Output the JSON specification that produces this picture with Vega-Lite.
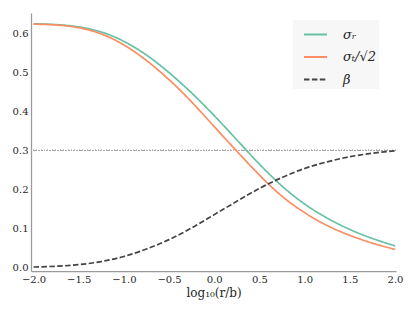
{
  "$schema": "https://vega.github.io/schema/vega-lite/v6.json",
  "width": 365,
  "height": 258,
  "autosize": {"type": "none"},
  "padding": {"left": 31, "top": 13, "right": 19, "bottom": 42},
  "background": "white",
  "config": {
    "view": {"stroke": null},
    "font": "DejaVu Serif",
    "axis": {
      "domainColor": "#9a9a9a",
      "domainWidth": 1.25,
      "ticks": false,
      "grid": false,
      "labelFont": "DejaVu Serif",
      "labelFontSize": 10,
      "labelColor": "#262626",
      "labelPadding": 3,
      "titleFont": "DejaVu Serif",
      "titleFontWeight": "normal",
      "titleColor": "#262626"
    }
  },
  "data": {
    "values": [
      {"x": -2.0, "series": "σr", "v": 0.624},
      {"x": -1.75, "series": "σr", "v": 0.622},
      {"x": -1.5, "series": "σr", "v": 0.616},
      {"x": -1.25, "series": "σr", "v": 0.603},
      {"x": -1.0, "series": "σr", "v": 0.579},
      {"x": -0.75, "series": "σr", "v": 0.544},
      {"x": -0.5, "series": "σr", "v": 0.499},
      {"x": -0.25, "series": "σr", "v": 0.447},
      {"x": 0.0, "series": "σr", "v": 0.389},
      {"x": 0.25, "series": "σr", "v": 0.327},
      {"x": 0.5, "series": "σr", "v": 0.265},
      {"x": 0.75, "series": "σr", "v": 0.209},
      {"x": 1.0, "series": "σr", "v": 0.163},
      {"x": 1.25, "series": "σr", "v": 0.127},
      {"x": 1.5, "series": "σr", "v": 0.098},
      {"x": 1.75, "series": "σr", "v": 0.075},
      {"x": 2.0, "series": "σr", "v": 0.056},
      {"x": -2.0, "series": "σt", "v": 0.623},
      {"x": -1.75, "series": "σt", "v": 0.621},
      {"x": -1.5, "series": "σt", "v": 0.614},
      {"x": -1.25, "series": "σt", "v": 0.598},
      {"x": -1.0, "series": "σt", "v": 0.570},
      {"x": -0.75, "series": "σt", "v": 0.530},
      {"x": -0.5, "series": "σt", "v": 0.481},
      {"x": -0.25, "series": "σt", "v": 0.424},
      {"x": 0.0, "series": "σt", "v": 0.361},
      {"x": 0.25, "series": "σt", "v": 0.298},
      {"x": 0.5, "series": "σt", "v": 0.237},
      {"x": 0.75, "series": "σt", "v": 0.183},
      {"x": 1.0, "series": "σt", "v": 0.141},
      {"x": 1.25, "series": "σt", "v": 0.108},
      {"x": 1.5, "series": "σt", "v": 0.083},
      {"x": 1.75, "series": "σt", "v": 0.063},
      {"x": 2.0, "series": "σt", "v": 0.047},
      {"x": -2.0, "series": "β", "v": 0.002},
      {"x": -1.75, "series": "β", "v": 0.004},
      {"x": -1.5, "series": "β", "v": 0.008},
      {"x": -1.25, "series": "β", "v": 0.016},
      {"x": -1.0, "series": "β", "v": 0.029},
      {"x": -0.75, "series": "β", "v": 0.048},
      {"x": -0.5, "series": "β", "v": 0.072},
      {"x": -0.25, "series": "β", "v": 0.102},
      {"x": 0.0, "series": "β", "v": 0.136},
      {"x": 0.25, "series": "β", "v": 0.170},
      {"x": 0.5, "series": "β", "v": 0.203},
      {"x": 0.75, "series": "β", "v": 0.231},
      {"x": 1.0, "series": "β", "v": 0.254},
      {"x": 1.25, "series": "β", "v": 0.271},
      {"x": 1.5, "series": "β", "v": 0.284},
      {"x": 1.75, "series": "β", "v": 0.293},
      {"x": 2.0, "series": "β", "v": 0.299}
    ]
  },
  "layer": [
    {
      "mark": {"type": "rule", "color": "#aaaaaa", "strokeWidth": 0.8, "strokeDash": [1, 1.7]},
      "encoding": {"y": {"datum": 0.3}}
    },
    {
      "mark": {"type": "line", "interpolate": "natural", "strokeWidth": 1.7},
      "encoding": {
        "x": {
          "field": "x", "type": "quantitative",
          "scale": {"domain": [-2.028, 2.011], "nice": false, "zero": false},
          "axis": {"values": [-2, -1.5, -1, -0.5, 0, 0.5, 1, 1.5, 2], "format": ".1f", "labelFlush": false, "labelOverlap": false, "title": "log₁₀(r/b)", "titleFontSize": 12, "titlePadding": 3}
        },
        "y": {
          "field": "v", "type": "quantitative",
          "scale": {"domain": [-0.0082, 0.6516], "nice": false, "zero": false},
          "axis": {"values": [0, 0.1, 0.2, 0.3, 0.4, 0.5, 0.6], "format": ".1f", "title": null, "labelFlush": false}
        },
        "color": {
          "field": "series", "type": "nominal",
          "scale": {"domain": ["σr", "σt", "β"], "range": ["#66c2a5", "#fc8d62", "#444444"]},
          "legend": {
            "title": null, "orient": "none", "legendX": 262, "legendY": 7,
            "fillColor": "#f7f7f7", "padding": 2, "symbolOffset": 8, "symbolType": "stroke", "symbolSize": 529,
            "symbolStrokeWidth": 1.8, "labelFont": "DejaVu Serif", "labelFontSize": 13,
            "labelFontStyle": "italic", "labelColor": "#262626", "labelOffset": 15, "rowPadding": 2.5,
            "labelExpr": "datum.label == 'σr' ? 'σᵣ' : datum.label == 'σt' ? 'σₜ/√2\u00a0\u00a0' : 'β'"
          }
        },
        "strokeDash": {
          "field": "series", "type": "nominal",
          "scale": {"domain": ["σr", "σt", "β"], "range": [[1, 0], [1, 0], [5.5, 2.4]]},
          "legend": {
            "title": null, "orient": "none", "legendX": 262, "legendY": 7,
            "fillColor": "#f7f7f7", "padding": 2, "symbolOffset": 8, "symbolType": "stroke", "symbolSize": 529,
            "symbolStrokeWidth": 1.8, "labelFont": "DejaVu Serif", "labelFontSize": 13,
            "labelFontStyle": "italic", "labelColor": "#262626", "labelOffset": 15, "rowPadding": 2.5,
            "labelExpr": "datum.label == 'σr' ? 'σᵣ' : datum.label == 'σt' ? 'σₜ/√2\u00a0\u00a0' : 'β'"
          }
        }
      }
    }
  ]
}
